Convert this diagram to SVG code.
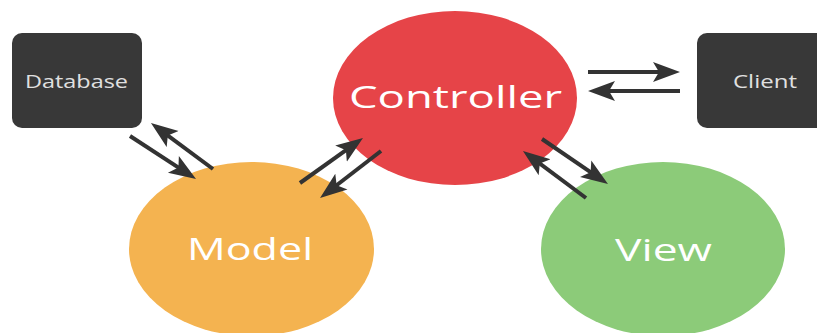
<svg xmlns="http://www.w3.org/2000/svg" width="817" height="333" viewBox="0 0 817 333">
<style>
.box{fill:#383838}
.boxtxt{fill:#e0e0e0;font-family:"Open Sans","DejaVu Sans",sans-serif;font-size:18px;text-anchor:middle}
.big{fill:#ffffff;font-family:"Open Sans","DejaVu Sans",sans-serif;font-size:31px;text-anchor:middle}
.conn{stroke:#333333;stroke-width:4;fill:none;marker-end:url(#head)}
</style>
<defs>
<marker id="head" viewBox="0 -11 27 22" refX="13" refY="0" markerWidth="27" markerHeight="22" markerUnits="userSpaceOnUse" orient="auto">
<path d="M0,-10 L27,0 L0,10 L6,0 Z" fill="#333333"/>
</marker>
</defs>
<rect width="817" height="333" fill="#ffffff"/>
<g id="controller">
<ellipse cx="455" cy="98" rx="122" ry="87" fill="#e64448"/>
<text class="big" x="455.5" y="108" textLength="213" lengthAdjust="spacingAndGlyphs">Controller</text>
</g>
<g id="model">
<ellipse cx="251.5" cy="249" rx="122.5" ry="87" fill="#f4b350"/>
<text class="big" x="250" y="260" font-size="32" textLength="126" lengthAdjust="spacingAndGlyphs">Model</text>
</g>
<g id="view">
<ellipse cx="663" cy="249" rx="122" ry="87" fill="#8ccb79"/>
<text class="big" x="663.5" y="261" font-size="32" textLength="97" lengthAdjust="spacingAndGlyphs">View</text>
</g>
<g id="database">
<rect class="box" x="12" y="33" width="130" height="95" rx="10"/>
<text class="boxtxt" x="76.5" y="88" textLength="103" lengthAdjust="spacingAndGlyphs">Database</text>
</g>
<g id="client">
<rect class="box" x="697" y="33" width="140" height="95" rx="10"/>
<text class="boxtxt" x="765" y="88" textLength="64" lengthAdjust="spacingAndGlyphs">Client</text>
</g>
<g id="connectors">
<line class="conn" x1="588" y1="72" x2="666" y2="72"/>
<line class="conn" x1="680" y1="91" x2="602" y2="91"/>
<line class="conn" x1="130" y1="136" x2="184.3" y2="171.4"/>
<line class="conn" x1="213" y1="169" x2="162.2" y2="131.3"/>
<line class="conn" x1="300" y1="183" x2="351.6" y2="146.1"/>
<line class="conn" x1="381" y1="151" x2="331.1" y2="189.5"/>
<line class="conn" x1="542" y1="139" x2="596.4" y2="176.1"/>
<line class="conn" x1="586" y1="198" x2="534.2" y2="159.4"/>
</g>
</svg>
